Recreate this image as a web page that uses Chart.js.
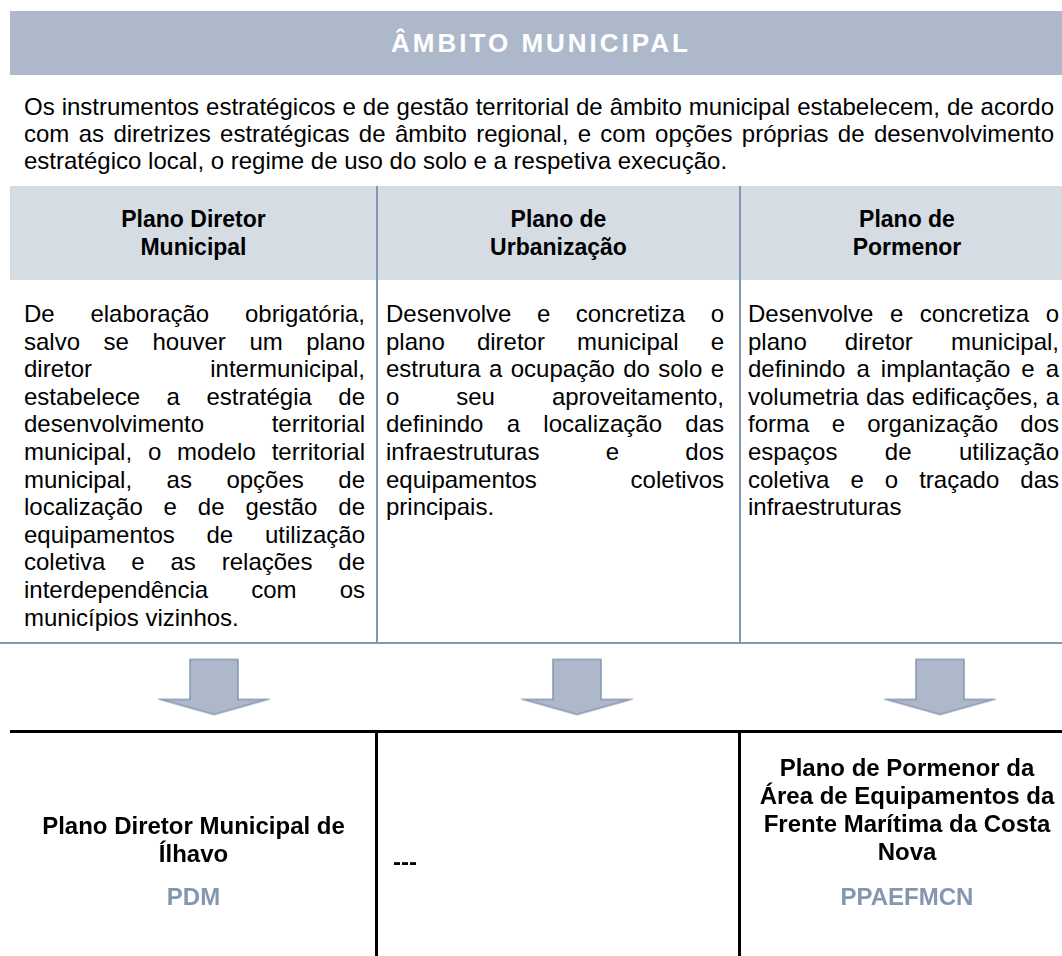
<!DOCTYPE html>
<html><head><meta charset="utf-8">
<script src="https://cdn.jsdelivr.net/npm/chart.js@4.4.1/dist/chart.umd.min.js"></script>
<style>
html,body{margin:0;padding:0;background:#fff;width:1062px;height:956px;overflow:hidden;font-family:"Liberation Sans",Arial,sans-serif;color:#000;}
#root{position:relative;width:1062px;height:956px;overflow:hidden;}
#title{position:absolute;left:10px;top:11px;width:1052px;height:64px;background:#adb9ca;color:#fff;font-weight:bold;font-size:26px;letter-spacing:3px;display:flex;align-items:center;justify-content:center;box-sizing:border-box;padding-left:10px;}
#intro{position:absolute;left:24px;top:93px;width:1030px;font-size:24px;line-height:27px;text-align:justify;}
#hdrband{position:absolute;left:10px;top:186px;width:1052px;height:94px;background:#d6dce4;}
.hcell{position:absolute;top:186px;height:94px;display:flex;align-items:center;justify-content:center;text-align:center;font-weight:bold;font-size:23px;line-height:28px;white-space:pre-line;}
.desc{position:absolute;top:300px;font-size:24px;line-height:27.6px;text-align:justify;}
.vline{position:absolute;width:2px;background:#8497b0;}
#hline{position:absolute;left:0;top:642px;width:1062px;height:2px;background:#8497b0;}
#arrows{position:absolute;left:0;top:643px;}
#bline{position:absolute;left:10px;top:730px;width:1052px;height:3px;background:#000;}
.bvline{position:absolute;top:730px;height:226px;width:3px;background:#000;}
.inst{position:absolute;font-weight:bold;font-size:24px;line-height:28px;text-align:center;white-space:pre-line;}
.acr{color:#8497b0;font-weight:bold;}
</style>
</head>
<body>
<div id="root">
  <div id="title"></div>
  <div id="intro"></div>
  <div id="hdrband"></div>
  <div class="hcell" id="h0" style="left:10px;width:367px;"></div>
  <div class="hcell" id="h1" style="left:377px;width:363px;"></div>
  <div class="hcell" id="h2" style="left:740px;width:334px;"></div>
  <div class="desc" id="d0" style="left:24px;width:341px;"></div>
  <div class="desc" id="d1" style="left:386px;width:338px;"></div>
  <div class="desc" id="d2" style="left:748px;width:311px;"></div>
  <div class="vline" style="left:376px;top:186px;height:457px;"></div>
  <div class="vline" style="left:739px;top:186px;height:457px;"></div>
  <div id="hline"></div>
  <canvas id="arrows" width="1062" height="89"></canvas>
  <div id="bline"></div>
  <div class="bvline" style="left:375px;"></div>
  <div class="bvline" style="left:738px;"></div>
  <div class="inst" id="i0" style="left:10px;width:367px;top:812px;"></div>
  <div class="inst" id="i1" style="left:393px;top:848px;text-align:left;"></div>
  <div class="inst" id="i2" style="left:740px;width:334px;top:754px;"></div>
</div>
<script>
// ---- content ----
const titleText = 'ÂMBITO MUNICIPAL';
const introText = 'Os instrumentos estratégicos e de gestão territorial de âmbito municipal estabelecem, de acordo com as diretrizes estratégicas de âmbito regional, e com opções próprias de desenvolvimento estratégico local, o regime de uso do solo e a respetiva execução.';
const categories = ['Plano Diretor\nMunicipal', 'Plano de\nUrbanização', 'Plano de\nPormenor'];
const descriptions = [
  'De elaboração obrigatória, salvo se houver um plano diretor intermunicipal, estabelece a estratégia de desenvolvimento territorial municipal, o modelo territorial municipal, as opções de localização e de gestão de equipamentos de utilização coletiva e as relações de interdependência com os municípios vizinhos.',
  'Desenvolve e concretiza o plano diretor municipal e estrutura a ocupação do solo e o seu aproveitamento, definindo a localização das infraestruturas e dos equipamentos coletivos principais.',
  'Desenvolve e concretiza o plano diretor municipal, definindo a implantação e a volumetria das edificações, a forma e organização dos espaços de utilização coletiva e o traçado das infraestruturas'
];
const instruments = ['Plano Diretor Municipal de\nÍlhavo', '---', 'Plano de Pormenor da\nÁrea de Equipamentos da\nFrente Marítima da Costa\nNova'];
const acronyms = ['PDM', '', 'PPAEFMCN'];
const arrowValues = [1, 1, 1];

// ---- text layout ----
document.getElementById('title').textContent = titleText;
document.getElementById('intro').textContent = introText;
categories.forEach((c, i) => { document.getElementById('h' + i).textContent = c; });
descriptions.forEach((d, i) => { document.getElementById('d' + i).textContent = d; });
instruments.forEach((t, i) => {
  const el = document.getElementById('i' + i);
  const n = document.createElement('div');
  n.textContent = t;
  el.appendChild(n);
  if (acronyms[i]) {
    const a = document.createElement('div');
    a.className = 'acr';
    a.style.marginTop = (i === 0 ? 15 : 17) + 'px';
    a.textContent = acronyms[i];
    el.appendChild(a);
  }
});

// ---- arrow glyph used as point style ----
function makeArrow() {
  const c = document.createElement('canvas');
  c.width = 112; c.height = 60;
  const g = c.getContext('2d');
  const cx = 56;
  g.beginPath();
  g.moveTo(cx - 24, 2);
  g.lineTo(cx + 24, 2);
  g.lineTo(cx + 24, 42);
  g.lineTo(cx + 53.5, 42);
  g.lineTo(cx, 57);
  g.lineTo(cx - 53.5, 42);
  g.lineTo(cx - 24, 42);
  g.closePath();
  g.fillStyle = '#adb9ca';
  g.fill();
  g.lineWidth = 1.5;
  g.strokeStyle = '#8497b0';
  g.lineJoin = 'miter';
  g.stroke();
  return c;
}
const arrowImg = makeArrow();

new Chart(document.getElementById('arrows'), {
  type: 'line',
  data: {
    labels: categories,
    datasets: [{
      data: arrowValues,
      showLine: false,
      pointStyle: arrowImg,
      pointRadius: 30,
      pointHoverRadius: 30,
      clip: false
    }]
  },
  options: {
    responsive: false,
    animation: false,
    events: [],
    layout: { padding: { left: 214, right: 122, top: 0, bottom: 4 } },
    scales: {
      x: { display: false, offset: false },
      y: { display: false, min: 0, max: 2 }
    },
    plugins: { legend: { display: false }, tooltip: { enabled: false } }
  }
});
</script>
</body></html>
